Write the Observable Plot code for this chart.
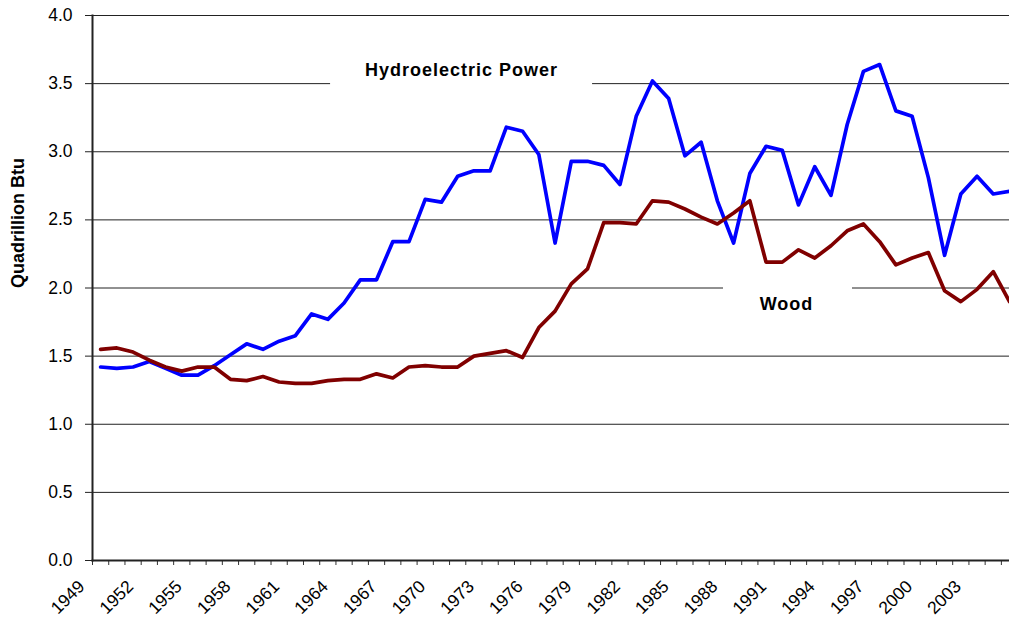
<!DOCTYPE html>
<html>
<head>
<meta charset="utf-8">
<script src="https://cdn.jsdelivr.net/npm/d3@7"></script>
<script src="https://cdn.jsdelivr.net/npm/@observablehq/plot@0.6"></script>
<style>
  html, body { margin: 0; padding: 0; background: #fff; }
  #chart svg { display: block; }
</style>
</head>
<body>
<div id="chart"></div>
<script>
// ---- Data ----
const years = [1949,1950,1951,1952,1953,1954,1955,1956,1957,1958,1959,1960,1961,1962,1963,1964,
  1965,1966,1967,1968,1969,1970,1971,1972,1973,1974,1975,1976,1977,1978,1979,1980,1981,1982,1983,
  1984,1985,1986,1987,1988,1989,1990,1991,1992,1993,1994,1995,1996,1997,1998,1999,2000,2001,2002,
  2003,2004,2005];

const hydro = [1.42,1.41,1.42,1.46,1.41,1.36,1.36,1.43,1.51,1.59,1.55,1.61,1.65,1.81,1.77,1.89,
  2.06,2.06,2.34,2.34,2.65,2.63,2.82,2.86,2.86,3.18,3.15,2.98,2.33,2.93,2.93,2.90,2.76,3.26,3.52,
  3.39,2.97,3.07,2.64,2.33,2.84,3.04,3.01,2.61,2.89,2.68,3.20,3.59,3.64,3.30,3.26,2.81,2.24,2.69,
  2.82,2.69,2.71];

const wood = [1.55,1.56,1.53,1.47,1.42,1.39,1.42,1.42,1.33,1.32,1.35,1.31,1.30,1.30,1.32,1.33,
  1.33,1.37,1.34,1.42,1.43,1.42,1.42,1.50,1.52,1.54,1.49,1.71,1.83,2.03,2.14,2.48,2.48,2.47,2.64,
  2.63,2.58,2.52,2.47,2.55,2.64,2.19,2.19,2.28,2.22,2.31,2.42,2.47,2.34,2.17,2.22,2.26,1.98,1.90,
  1.99,2.12,1.90];

const seriesNames = ["Hydroelectric Power", "Wood"];
const seriesColors = ["#0000ff", "#800000"];
const yTicks = [0, 0.5, 1.0, 1.5, 2.0, 2.5, 3.0, 3.5, 4.0];
const yearLabels = ["1949","1952","1955","1958","1961","1964","1967","1970","1973","1976","1979","1982","1985","1988","1991","1994","1997","2000","2003"];
const yTitle = "Quadrillion Btu";
// in-chart series labels, placed in data space (year, value)
const hydroLabel = [{name: "Hydroelectric Power", year: 1971.24, value: 3.60}];
const woodLabel = [{name: "Wood", year: 1991.26, value: 1.88}];

// ---- Build table ----
const rows = years.flatMap((yr, i) => [
  {year: yr, value: hydro[i], series: seriesNames[0]},
  {year: yr, value: wood[i], series: seriesNames[1]}
]);
const boundaries = years.map(y => y - 0.5); // category boundaries for tick marks

const font = '"Liberation Sans", Arial, Helvetica, sans-serif';

const chart = Plot.plot({
  width: 1009,
  height: 621,
  marginLeft: 92,
  marginRight: 0,
  marginTop: 15,
  marginBottom: 61,
  style: {fontFamily: font, fontSize: "17.5px", color: "#000", background: "#fff"},
  x: {type: "linear", domain: [1948.5, 2005]},
  y: {domain: [0, 4]},
  color: {domain: seriesNames, range: seriesColors},
  marks: [
    Plot.gridY(yTicks, {stroke: "#222", strokeOpacity: 1, strokeWidth: 1}),
    Plot.rect(hydroLabel, {x1: "year", x2: "year", y1: "value", y2: "value",
      insetLeft: -131, insetRight: -131, insetTop: -18, insetBottom: -18, fill: "white"}),
    Plot.rect(woodLabel, {x1: "year", x2: "year", y1: "value", y2: "value",
      insetLeft: -63, insetRight: -66, insetTop: -22, insetBottom: -14, fill: "white"}),
    Plot.axisY(yTicks, {tickSize: 7, tickPadding: 13, tickFormat: d3.format(".1f"), label: null,
      fontSize: 17.5, stroke: "#222"}),
    Plot.axisX(boundaries, {tickSize: 5, tickFormat: () => "", label: null, stroke: "#333"}),
    Plot.frame({anchor: "left", stroke: "#222", strokeWidth: 2}),
    Plot.frame({anchor: "bottom", stroke: "#222", strokeWidth: 2}),
    Plot.line(rows, {x: "year", y: "value", z: "series", stroke: "series", strokeWidth: 3.7,
      strokeLinejoin: "round"}),
    Plot.text(yearLabels, {x: d => +d, text: d => d, frameAnchor: "bottom", rotate: -45, textAnchor: "end",
      dx: -15, dy: 27, fontSize: 17.5, fill: "#000"}),
    Plot.text(hydroLabel, {x: "year", y: "value", text: "name", fontWeight: "bold", fontSize: 18,
      fill: "#000", className: "serieslabel"}),
    Plot.text(woodLabel, {x: "year", y: "value", text: "name", fontWeight: "bold", fontSize: 18,
      fill: "#000", className: "serieslabel"}),
    Plot.text([yTitle], {frameAnchor: "left", rotate: -90, dx: -74, fontWeight: "bold",
      fontSize: 18, fill: "#000"})
  ]
});

d3.select(chart).selectAll(".serieslabel text").attr("letter-spacing", "1px");
document.getElementById("chart").appendChild(chart);
</script>
</body>
</html>
